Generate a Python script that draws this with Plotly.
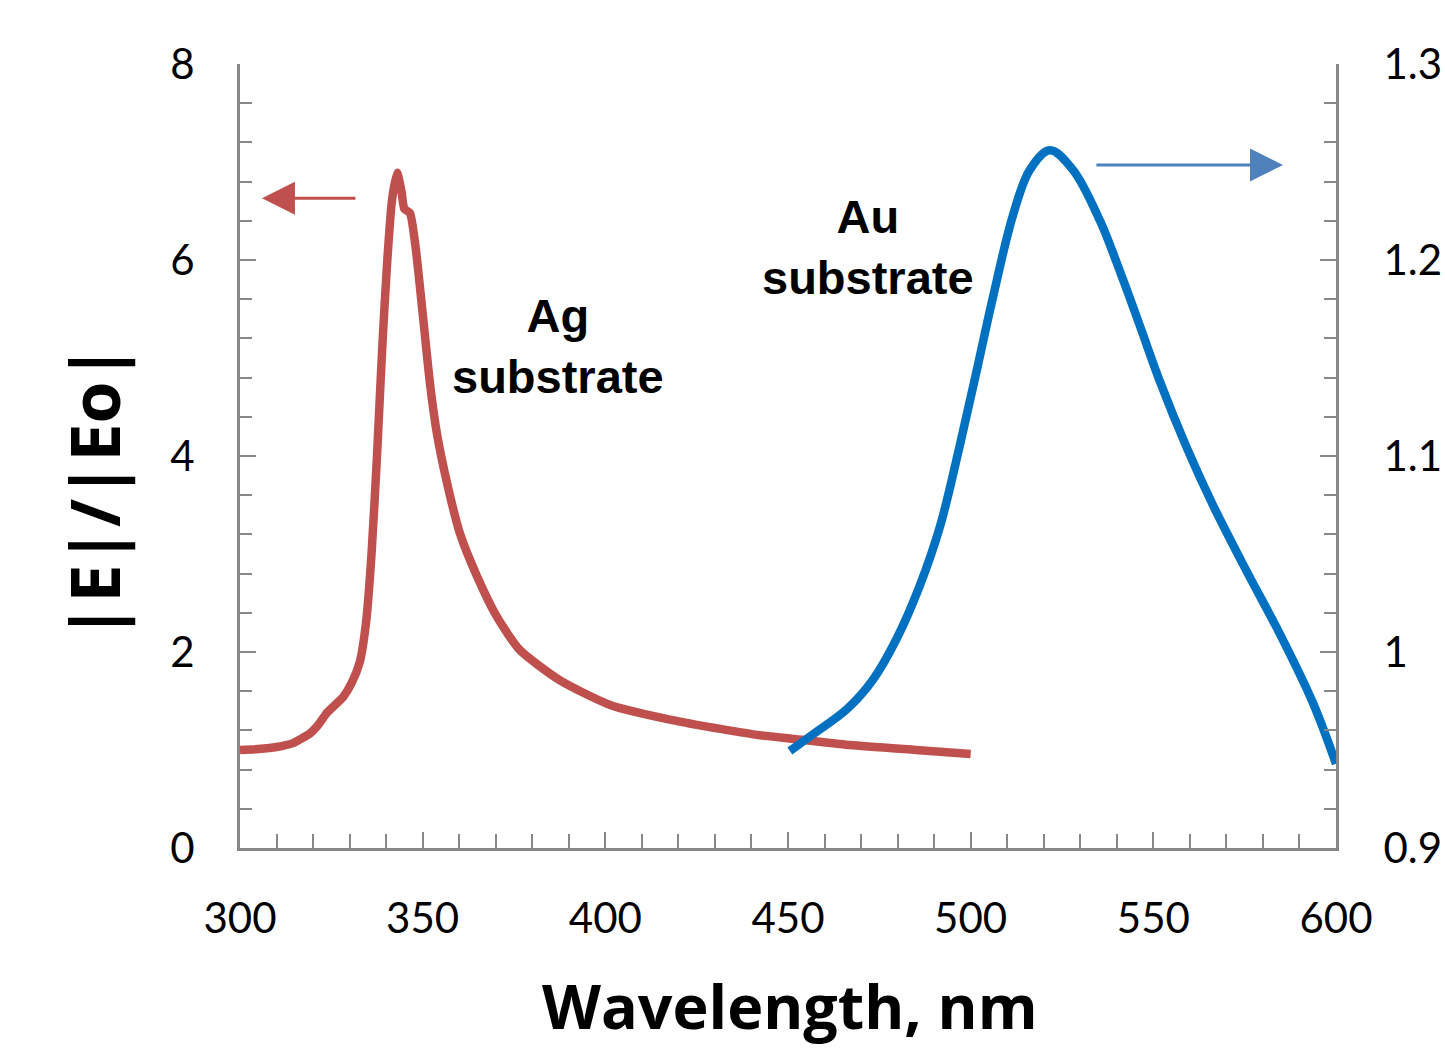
import plotly.graph_objects as go

# Ag substrate (left axis)
ag_wl = [300.0, 305, 310, 314.5, 317, 319.2, 321.5, 323.8, 326, 328.2, 330.5, 332.8,
         334.5, 336.0, 337.5, 338.9, 340.2, 341.6, 343.0, 344.2, 345.0, 346.5, 348.0,
         350.1, 352.0, 353.9, 356.7, 360.2, 364.9, 370.3, 376.6, 387.6, 401.3, 420.4,
         442.3, 455.0, 467.0, 485.0, 500.0]
ag_e = [1.00, 1.01, 1.03, 1.07, 1.12, 1.17, 1.26, 1.38, 1.46, 1.54, 1.68, 1.90,
        2.30, 3.00, 4.00, 5.08, 5.93, 6.61, 6.89, 6.70, 6.52, 6.48, 6.15,
        5.42, 4.74, 4.23, 3.72, 3.21, 2.77, 2.36, 2.02, 1.71, 1.46, 1.29,
        1.15, 1.10, 1.05, 1.00, 0.96]

# Au substrate (right axis)
au_wl = [450.5, 456.8, 466.2, 473.3, 479.8, 486.1, 491.6, 497.1, 501.7, 506.1, 511.6,
         516.2, 521.7, 528.0, 535.4, 540.9, 546.4, 551.8, 559.2, 566.3, 575.6, 584.7,
         593.7, 600.0]
au_e = [0.9495, 0.958, 0.971, 0.986, 1.007, 1.034, 1.064, 1.106, 1.144, 1.181, 1.223,
        1.246, 1.256, 1.246, 1.220, 1.194, 1.166, 1.138, 1.104, 1.075, 1.041, 1.009,
        0.974, 0.943]

x_range = [300, 600]
y_left_range = [0, 8]
y_right_range = [0.9, 1.3]

RED = "#C0504D"
BLUE = "#0070C0"
ARROW_BLUE = "#4F81BD"
GRAY = "#878787"

fig = go.Figure()
fig.add_trace(go.Scatter(x=ag_wl, y=ag_e, mode="lines",
                         line=dict(color=RED, width=8.5, shape="spline", smoothing=0.6),
                         yaxis="y", showlegend=False))
fig.add_trace(go.Scatter(x=au_wl, y=au_e, mode="lines",
                         line=dict(color=BLUE, width=8.5, shape="spline", smoothing=1.0),
                         yaxis="y2", showlegend=False))

tick_font = dict(family="Lato", size=42, color="black")

fig.update_layout(
    width=1445, height=1052,
    margin=dict(l=240, r=109, t=64, b=204, autoexpand=False),
    paper_bgcolor="white", plot_bgcolor="white",
    xaxis=dict(range=x_range, dtick=50, tick0=300, ticks="inside", ticklen=16,
               tickwidth=2, tickcolor=GRAY, showline=True, linecolor=GRAY, linewidth=3,
               showgrid=False, zeroline=False, tickfont=tick_font, ticklabelstandoff=32,
               automargin=False,
               minor=dict(dtick=10, ticks="inside", ticklen=14, tickwidth=2, tickcolor=GRAY)),
    yaxis=dict(range=y_left_range, dtick=2, ticks="inside", ticklen=16, tickwidth=2,
               tickcolor=GRAY, showline=True, linecolor=GRAY, linewidth=3, showgrid=False,
               zeroline=False, tickfont=tick_font, ticklabelstandoff=34, automargin=False,
               minor=dict(dtick=0.4, ticks="inside", ticklen=12, tickwidth=2, tickcolor=GRAY)),
    yaxis2=dict(range=y_right_range, dtick=0.1, overlaying="y", side="right",
                ticks="inside", ticklen=16, tickwidth=2, tickcolor=GRAY, showline=True,
                linecolor=GRAY, linewidth=3, showgrid=False, zeroline=False,
                tickfont=tick_font, ticklabelstandoff=36, automargin=False,
                minor=dict(dtick=0.02, ticks="inside", ticklen=12, tickwidth=2, tickcolor=GRAY)),
)

# axis titles (positioned in pixels of the plot area)
fig.add_annotation(x=(790 - 240) / 1096, y=1 - (1006 - 64) / 784, xref="paper", yref="paper",
                   xanchor="center", yanchor="middle",
                   text="<b>Wavelength, nm</b>", showarrow=False,
                   font=dict(family="Open Sans", size=61, color="black"))
fig.add_annotation(x=(93 - 240) / 1096, y=1 - (492 - 64) / 784, xref="paper", yref="paper",
                   xanchor="center", yanchor="middle",
                   text="<b>|E|/|Eo|</b>", textangle=-90, showarrow=False,
                   font=dict(family="Open Sans", size=68, color="black"))

ann_font = dict(family="Liberation Sans", size=47, color="black")
fig.add_annotation(x=387, y=5.12, xref="x", yref="y", text="<b>Ag<br>substrate</b>",
                   showarrow=False, font=ann_font, align="center")
fig.add_annotation(x=472, y=1.2065, xref="x", yref="y2", text="<b>Au<br>substrate</b>",
                   showarrow=False, font=ann_font, align="center")

# direction arrows
fig.add_annotation(x=306, y=6.63, ax=332, ay=6.63, xref="x", yref="y", axref="x", ayref="y",
                   showarrow=True, arrowhead=2, arrowsize=2.2, arrowwidth=3, arrowcolor=RED,
                   text="")
fig.add_annotation(x=585.5, y=1.2485, ax=534, ay=1.2485, xref="x", yref="y2", axref="x",
                   ayref="y2", showarrow=True, arrowhead=2, arrowsize=2.2, arrowwidth=3,
                   arrowcolor=ARROW_BLUE, text="")

fig.write_html("out.html")
